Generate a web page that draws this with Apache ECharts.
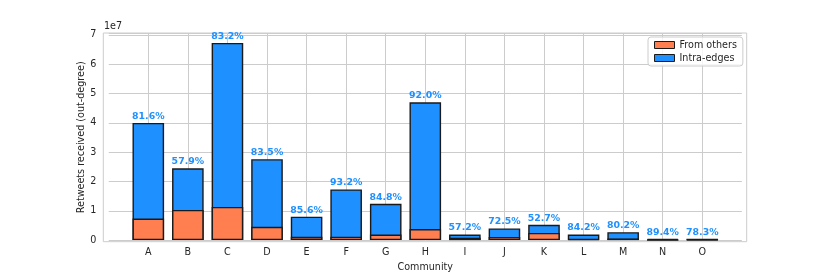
<!DOCTYPE html>
<html><head><meta charset="utf-8">
<script src="https://cdn.jsdelivr.net/npm/echarts@6/dist/echarts.min.js"></script>
<style>html,body{margin:0;padding:0;background:#fff}#c{width:830px;height:277px}</style>
</head><body><div id="c"></div>
<script>
const categories = ['A','B','C','D','E','F','G','H','I','J','K','L','M','N','O'];
const fromOthers = [7360000,10310000,11310000,4550000,1150000,1180000,1880000,3760000,810000,1100000,2460000,300000,530000,40000,110000];
const intraEdges = [32640000,14190000,55990000,23050000,6850000,16120000,10520000,43240000,1090000,2900000,2740000,1600000,2170000,360000,390000];
const pctLabels = ['81.6%','57.9%','83.2%','83.5%','85.6%','93.2%','84.8%','92.0%','57.2%','72.5%','52.7%','84.2%','80.2%','89.4%','78.3%'];
const yTicks = [0,1,2,3,4,5,6,7];

const FONT = 'DejaVu Sans';
const TXT = '#262626';
const GRIDC = '#cccccc';
const chart = echarts.init(document.getElementById('c'), null, {renderer:'canvas'});
const yMax = 7.067e7;
// stacked top = others + intra (drawn first, then "From others" overlaid at the bottom)
const stackedTop = intraEdges.map((v,i)=>[i, v + fromOthers[i]]);
chart.setOption({
  animation:false,
  textStyle:{fontFamily:FONT},
  grid:[
    {left:108.73, right:88.15, top:33, bottom:35.3, containLabel:false},
    {left:103.3, right:83.3, top:33, bottom:35.3, show:true, borderColor:GRIDC, borderWidth:1, backgroundColor:'transparent'}
  ],
  xAxis:[
    {type:'value', gridIndex:0, min:-1, max:15, interval:1,
     axisLine:{show:false}, axisTick:{show:false},
     splitLine:{show:true, showMinLine:false, showMaxLine:false, lineStyle:{color:GRIDC, width:1}},
     axisLabel:{color:TXT, fontSize:9.6, fontFamily:FONT, margin:7,
       formatter:v=> (Number.isInteger(v) && v>=0 && v<categories.length) ? categories[v] : ''},
     name:'Community', nameLocation:'middle', nameGap:19,
     nameTextStyle:{color:TXT, fontSize:9.6, fontFamily:FONT}},
    {type:'value', gridIndex:1, show:false, min:0, max:1}
  ],
  yAxis:[
    {type:'value', gridIndex:0, min:0, max:yMax, interval:1e7,
     axisLine:{show:false}, axisTick:{show:false},
     splitLine:{show:true, lineStyle:{color:GRIDC, width:1}},
     axisLabel:{color:TXT, fontSize:9.6, fontFamily:FONT, margin:12.5,
       formatter:v=>{const k=Math.round(v/1e7); return (Math.abs(v-k*1e7)<1 && yTicks.indexOf(k)>=0)? String(k):'';}}},
    {type:'value', gridIndex:1, show:false, min:0, max:1}
  ],
  legend:{
    orient:'vertical', left:648, top:37, padding:[3,6,3,6], itemGap:3,
    itemWidth:20, itemHeight:7, itemStyle:{borderColor:'#1a1a1a', borderWidth:1},
    backgroundColor:'rgba(255,255,255,0.8)', borderColor:GRIDC, borderWidth:1, borderRadius:3,
    textStyle:{color:TXT, fontSize:9.6, fontFamily:FONT},
    data:[{name:'From others', icon:'rect'},{name:'Intra-edges', icon:'rect'}]
  },
  graphic:[
    {type:'text', left:104, top:21, style:{text:'1e7', fill:TXT, font:'9.6px "DejaVu Sans"'}},
    {type:'text', x:81.5, y:137.3, rotation:Math.PI/2,
     style:{text:'Retweets received (out-degree)', fill:TXT, font:'9.6px "DejaVu Sans"', align:'center', verticalAlign:'middle'}}
  ],
  series:[
    {name:'Intra-edges', type:'bar', xAxisIndex:0, yAxisIndex:0, barWidth:31.6, barGap:'-100%',
     itemStyle:{color:'#1E90FF', borderColor:'#1a1a1a', borderWidth:1.4},
     label:{show:true, position:'top', distance:2, color:'#1E90FF', fontWeight:'bold', fontSize:9.4, fontFamily:FONT,
       formatter:p=>pctLabels[p.dataIndex]},
     data:stackedTop},
    {name:'From others', type:'bar', xAxisIndex:0, yAxisIndex:0, barWidth:31.6, barGap:'-100%',
     itemStyle:{color:'#FF7F50', borderColor:'#1a1a1a', borderWidth:1.4},
     data:fromOthers.map((v,i)=>[i,v])}
  ]
});
</script></body></html>
